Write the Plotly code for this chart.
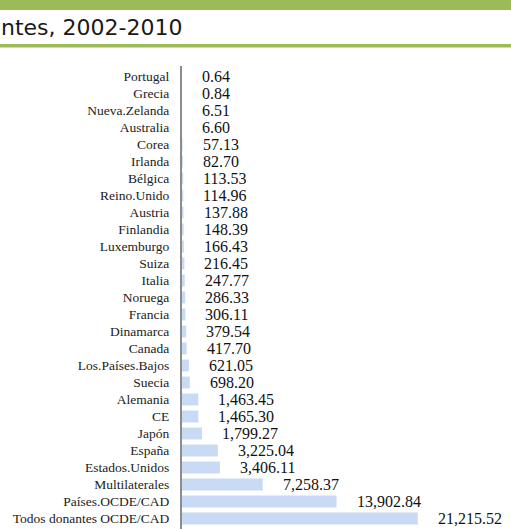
import plotly.graph_objects as go

categories = ["Portugal", "Grecia", "Nueva.Zelanda", "Australia", "Corea", "Irlanda",
              "Bélgica", "Reino.Unido", "Austria", "Finlandia", "Luxemburgo", "Suiza",
              "Italia", "Noruega", "Francia", "Dinamarca", "Canada", "Los.Países.Bajos",
              "Suecia", "Alemania", "CE", "Japón", "España", "Estados.Unidos",
              "Multilaterales", "Países.OCDE/CAD", "Todos donantes OCDE/CAD"]
values = [0.64, 0.84, 6.51, 6.60, 57.13, 82.70, 113.53, 114.96, 137.88, 148.39, 166.43,
          216.45, 247.77, 286.33, 306.11, 379.54, 417.70, 621.05, 698.20, 1463.45,
          1465.30, 1799.27, 3225.04, 3406.11, 7258.37, 13902.84, 21215.52]
title_text = "ntes, 2002-2010"

W, H = 511, 529
L, R, T, B = 182, 0, 66, 0
PW, PH = W - L - R, H - T - B


def px_x(p):
    return (p - L) / PW


def px_y(p):
    return (H - B - p) / PH


fig = go.Figure()
fig.add_trace(go.Bar(
    x=values, y=categories, orientation="h",
    marker=dict(color="#c9daf4", line=dict(width=0)),
    hoverinfo="skip",
))

annotations = []
for c, v in zip(categories, values):
    annotations.append(dict(
        x=v, y=c, xref="x", yref="y", text=f"{v:,.2f}", showarrow=False,
        xanchor="left", yanchor="middle", xshift=18,
        font=dict(family="Liberation Serif", size=16, color="#111111"),
    ))

annotations.append(dict(
    x=px_x(-1), y=px_y(27), xref="paper", yref="paper", text=title_text,
    showarrow=False, xanchor="left", yanchor="middle",
    font=dict(family="DejaVu Sans", size=22, color="#1a1a1a"),
))

shapes = [
    dict(type="rect", xref="paper", yref="paper", x0=px_x(0), x1=px_x(W),
         y0=px_y(0), y1=px_y(10), fillcolor="#9bbb59", line=dict(width=0), layer="above"),
    dict(type="rect", xref="paper", yref="paper", x0=px_x(0), x1=px_x(W),
         y0=px_y(44), y1=px_y(47.5), fillcolor="#9bbb59", line=dict(width=0), layer="above"),
]

fig.update_layout(
    width=W, height=H, autosize=False,
    margin=dict(l=L, r=R, t=T, b=B, pad=0),
    paper_bgcolor="white", plot_bgcolor="white",
    bargap=0.3, showlegend=False,
    annotations=annotations, shapes=shapes,
    xaxis=dict(range=[0, 29600], showgrid=False, zeroline=False, showline=False,
               showticklabels=False, ticks="", fixedrange=True),
    yaxis=dict(autorange="reversed", showgrid=False, zeroline=False, showline=True,
               linecolor="#8c8c8c", linewidth=2, ticks="", ticklabelstandoff=8,
               tickfont=dict(family="Liberation Serif", size=13.5, color="#222222"),
               fixedrange=True),
)

fig.write_html("out.html", config={"displayModeBar": False, "staticPlot": True},
               post_script="document.body.style.margin='0';document.body.style.overflow='hidden';")
